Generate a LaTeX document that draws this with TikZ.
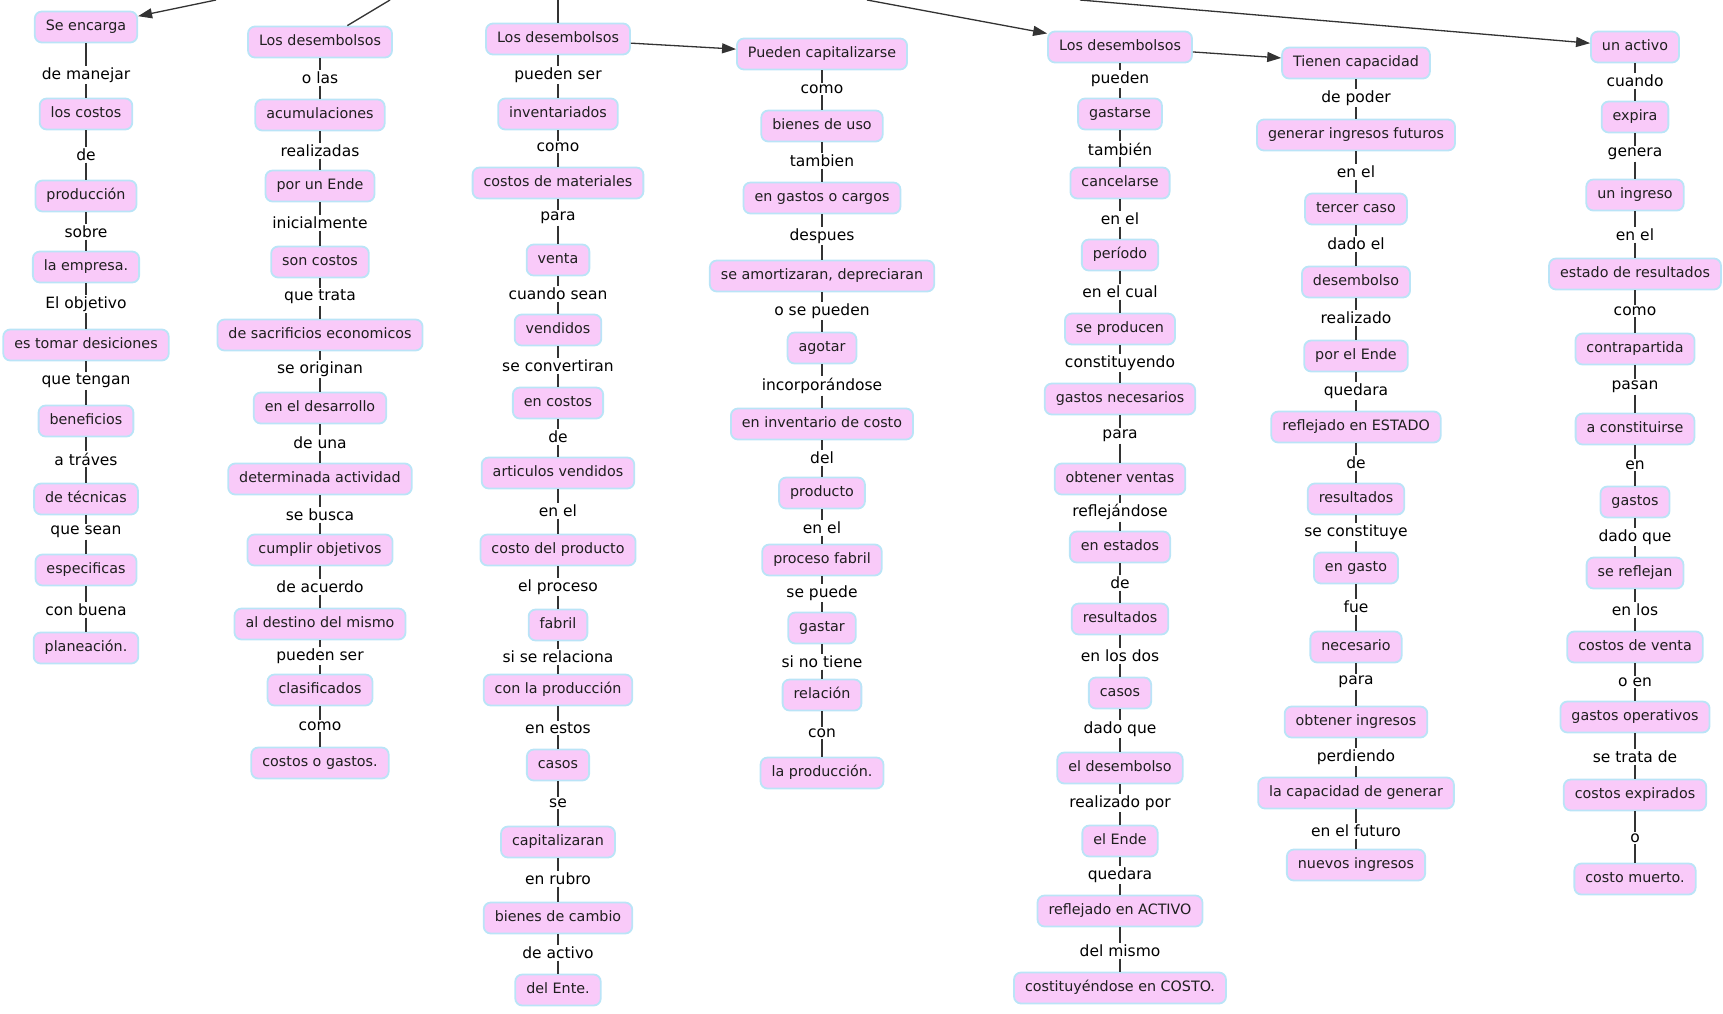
\documentclass[tikz,border=0pt]{standalone}
\usepackage{fontspec}
\setmainfont{DejaVu Sans}
\usetikzlibrary{arrows.meta}

\definecolor{conceptfill}{RGB}{249,202,249}
\definecolor{conceptline}{RGB}{186,228,247}

\tikzset{
  concept/.style={draw=conceptline,line width=1.8pt,fill=conceptfill,rounded corners=7pt,
    inner xsep=11pt,inner ysep=0pt,minimum height=31pt,text height=10.5pt,text depth=3pt,
    font=\fontsize{14.3}{16}\selectfont,text=black!88},
  linkword/.style={inner sep=1.5pt,font=\fontsize{15.5}{18}\selectfont,text=black},
  conn/.style={line width=1.3pt,draw=black!80},
  arrowed/.style={conn,-{Triangle[length=14pt,width=10pt]}}
}

\begin{document}
\begin{tikzpicture}[x=1pt,y=-1pt]
  \useasboundingbox (0,0) rectangle (1723,1013);

  \coordinate (t1) at (216,0);
  \coordinate (t2) at (390,0);
  \coordinate (t3) at (558,0);
  \coordinate (t4) at (867,0);
  \coordinate (t5) at (1080,0);

  \node[concept] (A1) at (86,27) {Se encarga};
  \node[linkword] (a1) at (86,75) {de manejar};
  \node[concept] (A2) at (86,114) {los costos};
  \node[linkword] (a2) at (86,155) {de};
  \node[concept] (A3) at (86,196) {producción};
  \node[linkword] (a3) at (86,232) {sobre};
  \node[concept] (A4) at (86,267) {la empresa.};
  \node[linkword] (a4) at (86,304) {El objetivo};
  \node[concept] (A5) at (86,345) {es tomar desiciones};
  \node[linkword] (a5) at (86,381) {que tengan};
  \node[concept] (A6) at (86,421) {beneficios};
  \node[linkword] (a6) at (86,459) {a tráves};
  \node[concept] (A7) at (86,499) {de técnicas};
  \node[linkword] (a7) at (86,532) {que sean};
  \node[concept] (A8) at (86,570) {especificas};
  \node[linkword] (a8) at (86,610) {con buena};
  \node[concept] (A9) at (86,648) {planeación.};

  \node[concept] (B1) at (320,42) {Los desembolsos};
  \node[linkword] (b1) at (320,78) {o las};
  \node[concept] (B2) at (320,115) {acumulaciones};
  \node[linkword] (b2) at (320,151) {realizadas};
  \node[concept] (B3) at (320,186) {por un Ende};
  \node[linkword] (b3) at (320,223) {inicialmente};
  \node[concept] (B4) at (320,262) {son costos};
  \node[linkword] (b4) at (320,297) {que trata};
  \node[concept] (B5) at (320,335) {de sacrificios economicos};
  \node[linkword] (b5) at (320,369) {se originan};
  \node[concept] (B6) at (320,408) {en el desarrollo};
  \node[linkword] (b6) at (320,443) {de una};
  \node[concept] (B7) at (320,479) {determinada actividad};
  \node[linkword] (b7) at (320,515) {se busca};
  \node[concept] (B8) at (320,550) {cumplir objetivos};
  \node[linkword] (b8) at (320,587) {de acuerdo};
  \node[concept] (B9) at (320,624) {al destino del mismo};
  \node[linkword] (b9) at (320,656) {pueden ser};
  \node[concept] (B10) at (320,690) {clasificados};
  \node[linkword] (b10) at (320,726) {como};
  \node[concept] (B11) at (320,763) {costos o gastos.};

  \node[concept] (C1) at (558,39) {Los desembolsos};
  \node[linkword] (c1) at (558,75) {pueden ser};
  \node[concept] (C2) at (558,114) {inventariados};
  \node[linkword] (c2) at (558,147) {como};
  \node[concept] (C3) at (558,183) {costos de materiales};
  \node[linkword] (c3) at (558,218) {para};
  \node[concept] (C4) at (558,260) {venta};
  \node[linkword] (c4) at (558,294) {cuando sean};
  \node[concept] (C5) at (558,330) {vendidos};
  \node[linkword] (c5) at (558,366) {se convertiran};
  \node[concept] (C6) at (558,403) {en costos};
  \node[linkword] (c6) at (558,437) {de};
  \node[concept] (C7) at (558,473) {articulos vendidos};
  \node[linkword] (c7) at (558,511) {en el};
  \node[concept] (C8) at (558,550) {costo del producto};
  \node[linkword] (c8) at (558,587) {el proceso};
  \node[concept] (C9) at (558,625) {fabril};
  \node[linkword] (c9) at (558,657) {si se relaciona};
  \node[concept] (C10) at (558,690) {con la producción};
  \node[linkword] (c10) at (558,728) {en estos};
  \node[concept] (C11) at (558,765) {casos};
  \node[linkword] (c11) at (558,803) {se};
  \node[concept] (C12) at (558,842) {capitalizaran};
  \node[linkword] (c12) at (558,879) {en rubro};
  \node[concept] (C13) at (558,918) {bienes de cambio};
  \node[linkword] (c13) at (558,953) {de activo};
  \node[concept] (C14) at (558,990) {del Ente.};

  \node[concept] (D1) at (822,54) {Pueden capitalizarse};
  \node[linkword] (d1) at (822,89) {como};
  \node[concept] (D2) at (822,126) {bienes de uso};
  \node[linkword] (d2) at (822,161) {tambien};
  \node[concept] (D3) at (822,198) {en gastos o cargos};
  \node[linkword] (d3) at (822,236) {despues};
  \node[concept] (D4) at (822,276) {se amortizaran, depreciaran};
  \node[linkword] (d4) at (822,311) {o se pueden};
  \node[concept] (D5) at (822,348) {agotar};
  \node[linkword] (d5) at (822,386) {incorporándose};
  \node[concept] (D6) at (822,424) {en inventario de costo};
  \node[linkword] (d6) at (822,458) {del};
  \node[concept] (D7) at (822,493) {producto};
  \node[linkword] (d7) at (822,528) {en el};
  \node[concept] (D8) at (822,560) {proceso fabril};
  \node[linkword] (d8) at (822,593) {se puede};
  \node[concept] (D9) at (822,628) {gastar};
  \node[linkword] (d9) at (822,662) {si no tiene};
  \node[concept] (D10) at (822,695) {relación};
  \node[linkword] (d10) at (822,733) {con};
  \node[concept] (D11) at (822,773) {la producción.};

  \node[concept] (E1) at (1120,47) {Los desembolsos};
  \node[linkword] (e1) at (1120,79) {pueden};
  \node[concept] (E2) at (1120,114) {gastarse};
  \node[linkword] (e2) at (1120,149) {también};
  \node[concept] (E3) at (1120,183) {cancelarse};
  \node[linkword] (e3) at (1120,219) {en el};
  \node[concept] (E4) at (1120,255) {período};
  \node[linkword] (e4) at (1120,292) {en el cual};
  \node[concept] (E5) at (1120,329) {se producen};
  \node[linkword] (e5) at (1120,363) {constituyendo};
  \node[concept] (E6) at (1120,399) {gastos necesarios};
  \node[linkword] (e6) at (1120,436) {para};
  \node[concept] (E7) at (1120,479) {obtener ventas};
  \node[linkword] (e7) at (1120,512) {reflejándose};
  \node[concept] (E8) at (1120,547) {en estados};
  \node[linkword] (e8) at (1120,583) {de};
  \node[concept] (E9) at (1120,619) {resultados};
  \node[linkword] (e9) at (1120,656) {en los dos};
  \node[concept] (E10) at (1120,693) {casos};
  \node[linkword] (e10) at (1120,729) {dado que};
  \node[concept] (E11) at (1120,768) {el desembolso};
  \node[linkword] (e11) at (1120,803) {realizado por};
  \node[concept] (E12) at (1120,841) {el Ende};
  \node[linkword] (e12) at (1120,875) {quedara};
  \node[concept] (E13) at (1120,911) {reflejado en ACTIVO};
  \node[linkword] (e13) at (1120,951) {del mismo};
  \node[concept] (E14) at (1120,988) {costituyéndose en COSTO.};

  \node[concept] (F1) at (1356,63) {Tienen capacidad};
  \node[linkword] (f1) at (1356,98) {de poder};
  \node[concept] (F2) at (1356,135) {generar ingresos futuros};
  \node[linkword] (f2) at (1356,172) {en el};
  \node[concept] (F3) at (1356,209) {tercer caso};
  \node[linkword] (f3) at (1356,244) {dado el};
  \node[concept] (F4) at (1356,282) {desembolso};
  \node[linkword] (f4) at (1356,318) {realizado};
  \node[concept] (F5) at (1356,356) {por el Ende};
  \node[linkword] (f5) at (1356,391) {quedara};
  \node[concept] (F6) at (1356,427) {reflejado en ESTADO};
  \node[linkword] (f6) at (1356,463) {de};
  \node[concept] (F7) at (1356,499) {resultados};
  \node[linkword] (f7) at (1356,532) {se constituye};
  \node[concept] (F8) at (1356,568) {en gasto};
  \node[linkword] (f8) at (1356,607) {fue};
  \node[concept] (F9) at (1356,647) {necesario};
  \node[linkword] (f9) at (1356,682) {para};
  \node[concept] (F10) at (1356,722) {obtener ingresos};
  \node[linkword] (f10) at (1356,757) {perdiendo};
  \node[concept] (F11) at (1356,793) {la capacidad de generar};
  \node[linkword] (f11) at (1356,831) {en el futuro};
  \node[concept] (F12) at (1356,865) {nuevos ingresos};

  \node[concept] (G1) at (1635,47) {un activo};
  \node[linkword] (g1) at (1635,81) {cuando};
  \node[concept] (G2) at (1635,117) {expira};
  \node[linkword] (g2) at (1635,154) {genera};
  \node[concept] (G3) at (1635,195) {un ingreso};
  \node[linkword] (g3) at (1635,235) {en el};
  \node[concept] (G4) at (1635,274) {estado de resultados};
  \node[linkword] (g4) at (1635,311) {como};
  \node[concept] (G5) at (1635,349) {contrapartida};
  \node[linkword] (g5) at (1635,387) {pasan};
  \node[concept] (G6) at (1635,429) {a constituirse};
  \node[linkword] (g6) at (1635,465) {en};
  \node[concept] (G7) at (1635,502) {gastos};
  \node[linkword] (g7) at (1635,537) {dado que};
  \node[concept] (G8) at (1635,573) {se reflejan};
  \node[linkword] (g8) at (1635,610) {en los};
  \node[concept] (G9) at (1635,647) {costos de venta};
  \node[linkword] (g9) at (1635,682) {o en};
  \node[concept] (G10) at (1635,717) {gastos operativos};
  \node[linkword] (g10) at (1635,757) {se trata de};
  \node[concept] (G11) at (1635,795) {costos expirados};
  \node[linkword] (g11) at (1635,838) {o};
  \node[concept] (G12) at (1635,879) {costo muerto.};

  \draw[conn] (A1) -- (a1) -- (A2) -- (a2) -- (A3) -- (a3) -- (A4) -- (a4) -- (A5) -- (a5) -- (A6) -- (a6) -- (A7) -- (a7) -- (A8) -- (a8) -- (A9);
  \draw[conn] (B1) -- (b1) -- (B2) -- (b2) -- (B3) -- (b3) -- (B4) -- (b4) -- (B5) -- (b5) -- (B6) -- (b6) -- (B7) -- (b7) -- (B8) -- (b8) -- (B9) -- (b9) -- (B10) -- (b10) -- (B11);
  \draw[conn] (C1) -- (c1) -- (C2) -- (c2) -- (C3) -- (c3) -- (C4) -- (c4) -- (C5) -- (c5) -- (C6) -- (c6) -- (C7) -- (c7) -- (C8) -- (c8) -- (C9) -- (c9) -- (C10) -- (c10) -- (C11) -- (c11) -- (C12) -- (c12) -- (C13) -- (c13) -- (C14);
  \draw[conn] (D1) -- (d1) -- (D2) -- (d2) -- (D3) -- (d3) -- (D4) -- (d4) -- (D5) -- (d5) -- (D6) -- (d6) -- (D7) -- (d7) -- (D8) -- (d8) -- (D9) -- (d9) -- (D10) -- (d10) -- (D11);
  \draw[conn] (E1) -- (e1) -- (E2) -- (e2) -- (E3) -- (e3) -- (E4) -- (e4) -- (E5) -- (e5) -- (E6) -- (e6) -- (E7) -- (e7) -- (E8) -- (e8) -- (E9) -- (e9) -- (E10) -- (e10) -- (E11) -- (e11) -- (E12) -- (e12) -- (E13) -- (e13) -- (E14);
  \draw[conn] (F1) -- (f1) -- (F2) -- (f2) -- (F3) -- (f3) -- (F4) -- (f4) -- (F5) -- (f5) -- (F6) -- (f6) -- (F7) -- (f7) -- (F8) -- (f8) -- (F9) -- (f9) -- (F10) -- (f10) -- (F11) -- (f11) -- (F12);
  \draw[conn] (G1) -- (g1) -- (G2) -- (g2) -- (G3) -- (g3) -- (G4) -- (g4) -- (G5) -- (g5) -- (G6) -- (g6) -- (G7) -- (g7) -- (G8) -- (g8) -- (G9) -- (g9) -- (G10) -- (g10) -- (G11) -- (g11) -- (G12);

  \draw[arrowed] (t1) -- (A1);
  \draw[conn] (t2) -- (B1);
  \draw[conn] (t3) -- (C1);
  \draw[arrowed] (C1) -- (D1);
  \draw[arrowed] (t4) -- (E1);
  \draw[arrowed] (E1) -- (F1);
  \draw[arrowed] (t5) -- (G1);
\end{tikzpicture}
\end{document}
